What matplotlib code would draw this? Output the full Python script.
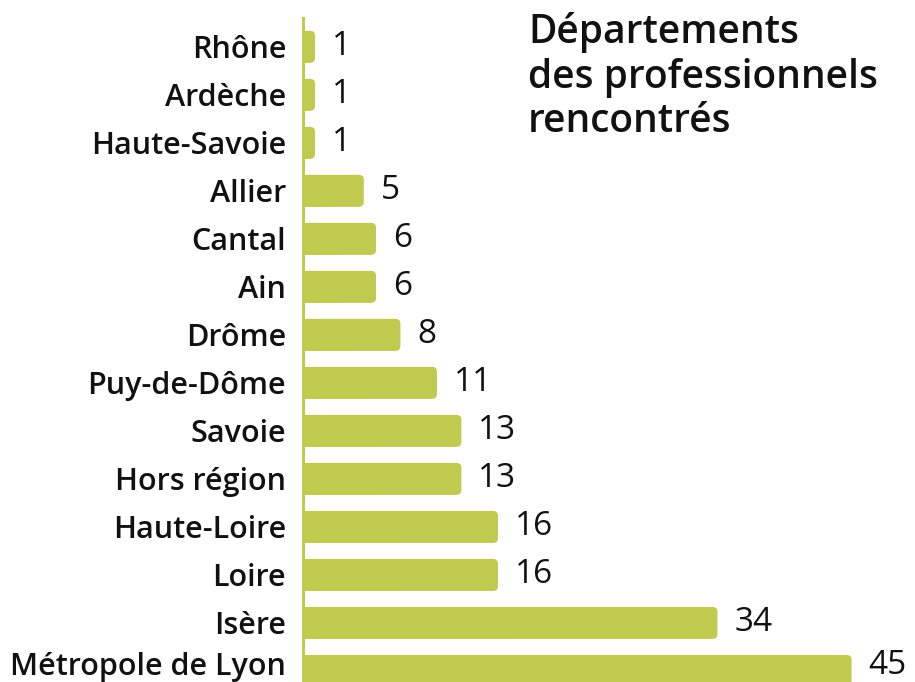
import matplotlib
matplotlib.use("Agg")
import matplotlib.pyplot as plt
from matplotlib.patches import FancyBboxPatch, Rectangle
from matplotlib.transforms import ScaledTranslation

categories = ["Rhône", "Ardèche", "Haute-Savoie", "Allier", "Cantal", "Ain", "Drôme",
              "Puy-de-Dôme", "Savoie", "Hors région", "Haute-Loire", "Loire", "Isère",
              "Métropole de Lyon"]
values = [1, 1, 1, 5, 6, 6, 8, 11, 13, 13, 16, 16, 34, 45]
title = "Départements\ndes professionnels\nrencontrés"

BAR = "#bfca4f"
TXT = "#111111"
FONT = ["Open Sans", "DejaVu Sans"]

fig = plt.figure(figsize=(9.15, 6.82), dpi=100)
ax = fig.add_axes([0.331, 0.0, 0.669, 0.9736])

ypos = list(range(len(categories)))
h = 0.667
XMAX = 50.2
ax.set_xlim(0, XMAX)
ax.set_ylim(13.23, -0.6)

# pixel scale to build rounded right corners
ax_w_px = 0.669 * 915
ax_h_px = 0.9736 * 682
px_x = ax_w_px / XMAX
px_y = ax_h_px / 13.83
r = 5.0 / px_x
aspect = px_x / px_y

bars = ax.barh(ypos, values, height=h, color=BAR, linewidth=0)
for b in bars:
    x0, y0, w, hh = b.get_x(), b.get_y(), b.get_width(), b.get_height()
    b.set_visible(False)
    ax.add_patch(FancyBboxPatch((x0, y0), w, hh,
                                boxstyle=f"round,pad=0,rounding_size={r}",
                                mutation_aspect=aspect, facecolor=BAR, linewidth=0))
    ax.add_patch(Rectangle((x0, y0), w / 2, hh, facecolor=BAR, linewidth=0))

for s in ["top", "right", "bottom"]:
    ax.spines[s].set_visible(False)
ax.spines["left"].set_color(BAR)
ax.spines["left"].set_linewidth(2.2)
ax.set_xticks([])
ax.set_yticks(ypos)
ax.set_yticklabels(categories, fontsize=22, fontweight=600, color=TXT, family=FONT)
ax.tick_params(axis="y", length=0, pad=12)
last = ax.get_yticklabels()[-1]
last.set_transform(last.get_transform() + ScaledTranslation(0, 7 / 100, fig.dpi_scale_trans))

n = len(values)
for i, (y, v) in enumerate(zip(ypos, values)):
    dy = 4 if i == n - 1 else 0
    ax.annotate(str(v), xy=(v, y), xytext=(12, dy), textcoords="offset points",
                va="center", ha="left", fontsize=24, color=TXT, family=FONT)

fig.text(0.577, 0.982, title, ha="left", va="top", fontsize=28, fontweight=600,
         color=TXT, family=FONT, linespacing=1.15)

fig.savefig("out.png", dpi=100, facecolor="white")
